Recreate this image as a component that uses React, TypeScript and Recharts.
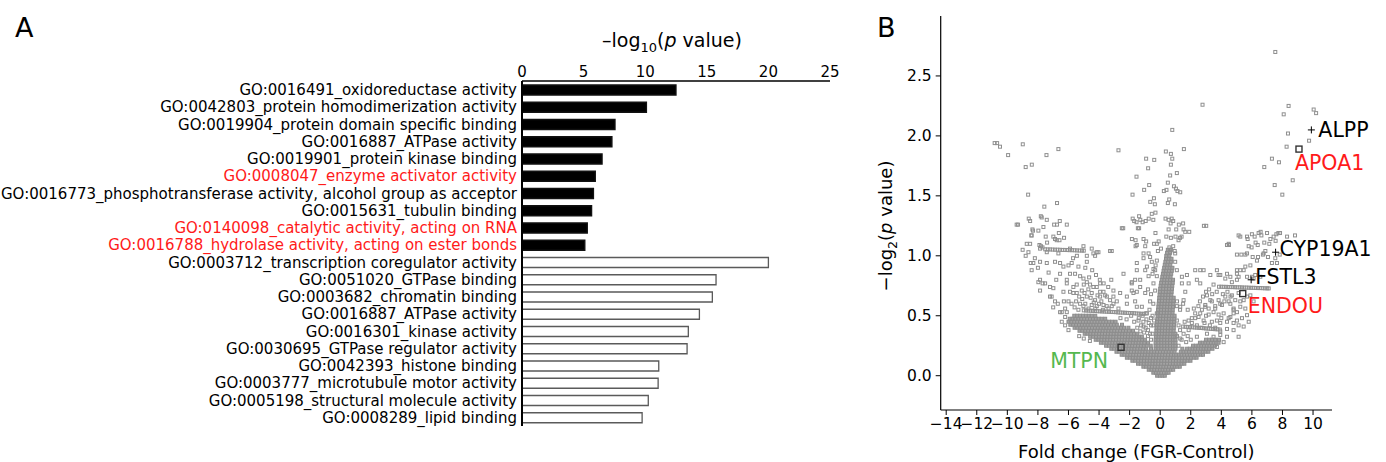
import React from 'react';
import { BarChart, Bar, XAxis, YAxis, Cell, ScatterChart, Scatter, Label } from 'recharts';

// ---------- Panel A: GO enrichment ----------
const goTerms = [
  'GO:0016491_oxidoreductase activity',
  'GO:0042803_protein homodimerization activity',
  'GO:0019904_protein domain specific binding',
  'GO:0016887_ATPase activity',
  'GO:0019901_protein kinase binding',
  'GO:0008047_enzyme activator activity',
  'GO:0016773_phosphotransferase activity, alcohol group as acceptor',
  'GO:0015631_tubulin binding',
  'GO:0140098_catalytic activity, acting on RNA',
  'GO:0016788_hydrolase activity, acting on ester bonds',
  'GO:0003712_transcription coregulator activity',
  'GO:0051020_GTPase binding',
  'GO:0003682_chromatin binding',
  'GO:0016887_ATPase activity ',
  'GO:0016301_kinase activity',
  'GO:0030695_GTPase regulator activity',
  'GO:0042393_histone binding',
  'GO:0003777_microtubule motor activity',
  'GO:0005198_structural molecule activity',
  'GO:0008289_lipid binding',
];
const logP = [12.5, 10.1, 7.55, 7.3, 6.5, 5.95, 5.8, 5.65, 5.3, 5.1, 20.0, 15.75, 15.45, 14.4, 13.5, 13.4, 11.1, 11.05, 10.25, 9.75];
const termGroup = ['up', 'up', 'up', 'up', 'up', 'up', 'up', 'up', 'up', 'up',
  'down', 'down', 'down', 'down', 'down', 'down', 'down', 'down', 'down', 'down'];
const redTerms = [
  'GO:0008047_enzyme activator activity',
  'GO:0140098_catalytic activity, acting on RNA',
  'GO:0016788_hydrolase activity, acting on ester bonds',
];
const xTicksA = [0, 5, 10, 15, 20, 25];

const goData = goTerms.map((term, i) => ({ term, value: logP[i], group: termGroup[i] }));

// ---------- Panel B: volcano ----------
type Pt = [number, number];

const xTicksB = [-14, -12, -10, -8, -6, -4, -2, 0, 2, 4, 6, 8, 10];
const yTicksB = [0, 0.5, 1.0, 1.5, 2.0, 2.5];

const outlierPoints: Pt[] = [
  [7.53, 2.70], [2.77, 2.26], [0.79, 2.05], [8.40, 2.25], [8.08, 2.18], [10.04, 2.22], [10.2, 2.19],
  [8.36, 2.02], [9.74, 1.96], [8.27, 1.91], [7.31, 1.81], [7.77, 1.78], [6.81, 1.74], [8.67, 1.63],
  [7.49, 1.59], [7.99, 1.51],
  [-10.83, 1.94], [-10.67, 1.94], [-10.48, 1.91], [-9.95, 1.84], [-8.99, 1.93], [-8.80, 1.74],
  [-8.40, 1.76], [-7.44, 1.84], [-6.66, 1.89], [-8.64, 1.51], [-7.58, 1.41], [-6.75, 1.44],
  [-7.81, 1.33], [-7.75, 1.32], [-7.42, 1.30], [-8.60, 1.31], [-8.51, 1.29], [-9.30, 1.26],
  [-6.94, 1.26], [-6.75, 1.26], [-6.57, 1.29], [-8.36, 1.22], [-8.32, 1.21], [-8.43, 1.17],
  [-7.49, 1.16], [-6.63, 1.19], [-6.29, 1.15], [-6.88, 1.14], [-6.77, 1.13], [-8.51, 1.10],
  [-7.40, 1.11], [-7.9, 1.09], [-7.8, 1.08], [-7.7, 1.07],
  [-2.73, 1.88], [-1.55, 1.66], [-0.92, 1.81], [-0.39, 1.80], [-0.79, 1.73], [0.37, 1.87],
  [0.70, 1.85], [0.79, 1.81], [0.70, 1.76], [1.55, 1.89], [1.09, 1.69], [0.65, 1.67], [0.50, 1.61],
  [-0.72, 1.59], [-1.05, 1.55], [-1.81, 1.51], [0.24, 1.54], [0.41, 1.55], [0.90, 1.58], [1.03, 1.56],
  [1.13, 1.54], [1.31, 1.53], [-0.41, 1.48], [-0.65, 1.45], [-0.35, 1.43], [0.59, 1.47], [0.50, 1.44],
  [0.96, 1.43], [-0.31, 1.36], [-0.55, 1.35],
  [-1.8, 1.31], [-1.7, 1.29], [-1.55, 1.28], [-1.3, 1.30], [-1.15, 1.28], [-0.95, 1.29], [-0.75, 1.31],
  [-0.45, 1.30], [0.35, 1.31], [0.55, 1.30], [0.75, 1.31], [0.85, 1.29], [0.68, 1.27], [1.5, 1.27],
  [2.86, 1.25], [-2.51, 1.23], [-1.46, 1.23], [0.55, 1.22], [1.05, 1.22], [1.53, 1.22], [1.22, 1.26],
  [1.9, 1.20], [-2.42, 1.23], [-1.85, 1.14], [-1.61, 1.13], [-1.61, 1.08], [-1.38, 1.23], [-1.38, 1.33],
  [-0.31, 1.19], [-1.09, 1.14], [-0.92, 1.12], [-0.4, 1.10], [-0.1, 1.12], [0.05, 1.06], [-0.15, 1.04],
  [0.4, 1.16], [0.7, 1.15], [1.0, 1.16], [1.3, 1.15], [1.4, 1.16], [0.6, 1.07], [0.7, 1.05],
  [0.95, 1.04], [0.85, 1.08], [0.65, 1.03],
  [4.5, 1.09], [5.24, 1.16], [5.72, 1.14], [6.0, 1.18], [6.18, 1.16], [6.44, 1.19], [6.57, 1.20],
  [6.62, 1.17], [6.99, 1.19], [7.21, 1.14], [7.42, 1.16], [7.6, 1.18], [7.73, 1.19], [7.84, 1.19],
  [7.55, 1.125], [7.14, 1.10], [6.81, 1.11], [6.38, 1.09], [6.24, 1.11], [5.98, 1.07], [5.79, 1.08],
  [5.31, 1.01], [6.05, 0.99], [6.4, 0.99], [6.72, 1.01], [6.88, 1.04], [7.05, 0.99], [7.82, 1.01],
  [8.3, 1.16], [8.82, 1.17], [5.13, 1.17], [5.68, 1.16], [4.37, 1.09], [5.68, 1.02], [5.02, 1.01],
  [7.31, 0.94], [7.64, 0.94], [7.53, 0.98], [5.9, 0.92], [5.46, 0.88], [5.02, 0.85], [4.59, 0.825],
  [6.11, 0.81], [6.55, 0.825], [5.02, 0.80], [3.71, 0.88], [3.28, 0.84], [3.01, 1.25],
];

const leftWing: Pt[] = [
  [-9.39, 1.26], [-8.73, 1.10], [-8.41, 1.17], [-7.97, 1.21], [-7.64, 1.24], [-6.99, 1.16], [-6.59, 1.13],
  [-6.11, 1.26], [-8.62, 1.03], [-8.47, 0.94], [-8.41, 0.88], [-7.86, 0.95], [-7.42, 0.94], [-7.97, 0.78],
  [-7.69, 0.77], [-7.21, 0.66], [-6.99, 0.73], [-6.55, 0.85], [-6.33, 0.91], [-6.11, 0.80], [-6.55, 0.53],
  [-6.22, 0.56], [-6.0, 0.62], [-5.68, 0.69], [-5.46, 0.76], [-5.24, 0.83], [-5.9, 0.85], [-5.35, 0.91],
  [-4.8, 0.95], [-4.37, 1.02], [-4.15, 1.03], [-3.28, 1.04], [-4.8, 0.78], [-4.37, 0.74], [-3.93, 0.70],
  [-3.49, 0.66], [-3.06, 0.60], [-2.73, 0.56], [-8.3, 0.94], [-7.86, 0.80], [-7.53, 0.77], [-7.21, 0.74],
  [-6.88, 0.95], [-6.55, 0.94], [-6.0, 0.92], [-5.79, 0.94], [-5.57, 0.85], [-5.02, 0.81], [-4.59, 0.76],
  [-4.15, 0.74], [-3.93, 0.77], [-2.4, 0.85], [-1.86, 0.77], [-1.53, 0.88], [-7.86, 0.71], [-7.1, 0.66],
  [-6.88, 0.62], [-6.33, 0.70], [-6.11, 0.77], [-5.68, 0.74], [-5.46, 0.69], [-5.13, 0.71], [-4.8, 0.66],
  [-4.48, 0.69], [-4.26, 0.63], [-3.93, 0.66], [-3.71, 0.70], [-3.28, 0.63], [-3.06, 0.66], [-2.84, 0.62],
  [-6.44, 0.53], [-6.11, 0.53], [-5.02, 0.58], [-4.69, 0.56], [-5.24, 0.60], [-4.48, 0.59], [-4.15, 0.58],
  [-3.71, 0.59], [-3.38, 0.56], [-3.17, 0.58], [-3.06, 0.71], [-2.62, 0.69], [-2.18, 0.66], [-1.86, 0.71],
  [-6.44, 0.45], [-6.22, 0.42], [-6.0, 0.38], [-6.22, 0.49], [-4.6, 0.29], [-5.0, 0.31], [-5.3, 0.33],
  [-7.86, 1.06], [-7.42, 1.03], [-6.66, 1.02], [-5.9, 1.06], [-5.02, 1.08], [-4.48, 1.06], [-4.04, 1.03],
  [-3.17, 1.04], [-4.8, 1.0], [-4.26, 1.0],
  [-5.5, 0.62], [-5.3, 0.66], [-5.1, 0.64], [-4.95, 0.69], [-4.7, 0.72], [-4.55, 0.65], [-4.35, 0.61],
  [-4.1, 0.67], [-3.85, 0.62], [-3.6, 0.67], [-5.6, 0.57], [-5.35, 0.55], [-4.9, 0.6], [-4.25, 0.56],
  [-4.0, 0.6], [-3.75, 0.55], [-3.5, 0.58], [-5.8, 0.6], [-5.9, 0.7], [-5.0, 0.76], [-4.65, 0.82],
  [-4.45, 0.88], [-4.2, 0.84], [-3.95, 0.8], [-3.7, 0.77], [-3.4, 0.74], [-3.2, 0.8], [-4.9, 0.9],
  [-5.7, 0.98], [-5.45, 1.0], [-6.3, 0.62], [-6.7, 0.6], [-7.0, 0.57], [-6.8, 0.8], [-7.3, 0.86],
  [-8.0, 0.9], [-8.8, 1.0], [-9.0, 1.05], [-8.2, 0.98],
];

const centerScatter: Pt[] = [
  [-1.53, 1.09], [-0.98, 1.08], [-0.76, 1.02], [-1.09, 0.98], [-0.55, 0.95], [-0.22, 1.10], [1.2, 1.13],
  [1.64, 1.2], [0.98, 1.02], [0.98, 0.95], [1.75, 0.84], [1.42, 0.77], [1.64, 0.70], [1.09, 0.58],
  [-1.86, 0.78], [-1.31, 0.80], [-1.53, 0.70], [-0.98, 0.69], [-0.76, 0.83], [-0.44, 0.89], [-0.87, 0.91],
  [-0.66, 0.62], [-1.2, 0.575], [-1.64, 0.62], [-2.18, 0.60], [-0.22, 0.52], [-0.33, 0.71], [-0.22, 0.83],
  [-1.64, 0.8], [-1.31, 0.74], [-1.75, 0.69], [-1.53, 0.575], [-0.87, 0.52], [-1.42, 0.46], [-1.09, 0.41],
  [-0.66, 0.35], [-0.44, 0.77], [-0.33, 0.88], [-0.22, 0.96], [-0.66, 0.99], [-1.09, 1.02], [-1.53, 0.94],
  [-0.98, 0.88], [-0.5, 0.35], [-0.6, 0.42], [-0.8, 0.38], [-0.5, 0.5], [-0.7, 0.55], [-0.9, 0.47],
  [-1.1, 0.45], [-0.45, 0.6], [-0.6, 0.68], [-0.8, 0.72], [-0.5, 0.85], [-0.3, 0.92],
  [-1.3, 0.37], [-1.05, 0.36], [-0.8, 0.33], [-0.6, 0.3], [-1.5, 0.4], [-1.25, 0.42], [-0.95, 0.4],
  [-0.75, 0.44], [-0.45, 0.42], [-1.7, 0.45], [-1.4, 0.48], [-1.15, 0.5], [-0.95, 0.52], [-0.6, 0.48],
  [-0.4, 0.46], [-2.2, 0.47], [-1.9, 0.5], [-2.6, 0.48],
  [1.09, 0.88], [1.42, 0.825], [1.86, 0.77], [1.53, 0.63], [1.31, 0.575], [1.09, 0.46], [1.31, 0.31],
  [1.53, 0.35], [1.86, 0.38], [2.07, 0.44], [2.29, 0.48], [1.2, 0.25], [1.4, 0.3], [1.3, 0.38],
  [1.1, 0.33], [1.2, 0.42], [1.6, 0.45], [1.3, 0.55], [1.1, 0.62], [1.5, 0.6], [1.8, 0.55], [2.0, 0.3],
  [1.8, 0.33], [1.7, 0.28],
];

const rightWing: Pt[] = [
  [2.29, 0.88], [2.62, 0.88], [3.93, 0.84], [4.37, 0.85], [5.02, 0.88], [4.48, 1.10], [3.06, 0.67],
  [3.49, 0.76], [2.62, 0.77], [2.62, 0.52], [2.95, 0.575], [3.28, 0.63], [3.6, 0.56], [4.15, 0.52],
  [4.48, 0.48], [3.71, 0.46], [3.93, 0.37], [4.37, 0.39], [4.8, 0.38],
  [1.86, 0.46], [2.07, 0.48], [2.29, 0.52], [2.51, 0.49], [2.73, 0.55], [2.95, 0.59], [3.17, 0.56],
  [3.38, 0.62], [3.6, 0.58], [3.82, 0.63], [4.04, 0.59], [4.26, 0.66], [4.48, 0.62], [4.69, 0.67],
  [4.91, 0.63], [5.13, 0.69], [3.17, 0.51], [3.49, 0.53], [3.82, 0.51], [4.8, 0.52], [2.84, 0.46],
  [3.38, 0.45], [3.93, 0.44], [4.37, 0.45], [4.8, 0.44], [3.06, 0.35], [3.49, 0.325], [3.93, 0.34],
  [4.37, 0.325], [5.13, 0.325], [2.4, 0.325], [3.71, 0.24], [4.15, 0.28],
  [2.4, 0.80], [2.84, 0.88], [3.82, 0.84], [4.26, 0.81], [4.69, 0.78], [5.13, 0.825], [5.24, 0.88],
  [5.57, 0.91], [5.68, 0.825], [6.0, 0.825], [6.22, 0.84], [6.33, 0.96], [5.57, 1.01], [6.77, 1.02],
  [4.59, 0.60], [4.8, 0.56], [5.02, 0.53], [5.24, 0.575], [5.46, 0.63], [5.68, 0.66], [5.9, 0.67],
  [6.11, 0.62], [5.57, 0.56], [5.68, 0.505], [5.35, 0.48], [5.79, 0.45], [5.13, 0.42], [5.46, 0.41],
  [5.24, 0.62], [4.8, 0.55], [5.02, 0.46], [3.93, 0.60], [4.59, 0.49],
  [2.6, 0.62], [2.8, 0.66], [3.0, 0.7], [3.2, 0.72], [3.4, 0.68], [3.7, 0.7], [3.0, 0.5], [3.25, 0.42],
  [3.6, 0.4], [4.0, 0.48], [4.2, 0.62], [4.4, 0.7], [4.6, 0.66], [4.1, 0.68], [2.5, 0.58], [2.2, 0.56],
  [2.4, 0.42], [2.7, 0.4], [2.9, 0.44],
];

const streakLeftTop: Pt[] = [
  [-7.52, 1.054], [-7.36, 1.053], [-7.2, 1.053], [-7.04, 1.052], [-6.88, 1.051], [-6.72, 1.051],
  [-6.56, 1.05], [-6.4, 1.049], [-6.24, 1.049], [-6.08, 1.048], [-5.92, 1.047], [-5.76, 1.047],
  [-5.6, 1.046], [-5.44, 1.045], [-5.28, 1.044], [-5.12, 1.044], [-5.0, 1.043],
];
const streakLeftMid: Pt[] = [
  [-5.0, 0.545], [-4.85, 0.544], [-4.7, 0.543], [-4.55, 0.542], [-4.4, 0.541], [-4.25, 0.54],
  [-4.1, 0.538], [-3.95, 0.537], [-3.8, 0.536], [-3.65, 0.535], [-3.5, 0.534], [-3.35, 0.533],
  [-3.2, 0.532], [-3.05, 0.531], [-2.9, 0.53], [-2.75, 0.528], [-2.6, 0.527], [-2.45, 0.526],
  [-2.3, 0.525], [-2.15, 0.524], [-2.0, 0.523], [-1.85, 0.522], [-1.7, 0.521], [-1.55, 0.519],
  [-1.4, 0.518], [-1.25, 0.517], [-1.1, 0.516],
];
const streakRightLow: Pt[] = [
  [1.5, 0.41], [1.65, 0.408], [1.8, 0.407], [1.95, 0.405], [2.1, 0.404], [2.25, 0.402], [2.4, 0.401],
  [2.55, 0.399], [2.7, 0.398], [2.85, 0.396], [3.0, 0.394], [3.15, 0.393], [3.3, 0.391], [3.45, 0.39],
  [3.6, 0.388], [3.75, 0.387], [3.9, 0.385],
];
const streakRightTop: Pt[] = [
  [3.85, 0.742], [4.0, 0.742], [4.15, 0.741], [4.3, 0.741], [4.45, 0.74], [4.6, 0.739], [4.75, 0.739],
  [4.9, 0.738], [5.05, 0.737], [5.2, 0.737], [5.35, 0.736], [5.5, 0.735], [5.65, 0.735], [5.8, 0.734],
  [5.95, 0.733], [6.1, 0.733], [6.25, 0.732], [6.4, 0.731], [6.55, 0.731], [6.7, 0.73], [6.85, 0.729],
  [7.0, 0.729], [7.1, 0.728],
];

// the dense V: each row is one -log2 p level with the fold changes read along it
const denseRows: [number, number[]][] = [
  [0.0, [-0.2, -0.02, 0.15, 0.3]],
  [0.025, [-0.45, -0.28, -0.1, 0.08, 0.25, 0.42, 0.55]],
  [0.05, [-0.75, -0.56, -0.38, -0.2, -0.02, 0.16, 0.34, 0.52, 0.7, 0.85]],
  [0.075, [-1.1, -0.92, -0.72, -0.54, -0.35, -0.16, 0.03, 0.22, 0.4, 0.58, 0.77, 0.95, 1.12, 1.28]],
  [0.1, [-1.45, -1.26, -1.07, -0.88, -0.69, -0.5, -0.31, -0.12, 0.07, 0.26, 0.45, 0.64, 0.83, 1.02, 1.21, 1.4, 1.58]],
  [0.125, [-1.82, -1.63, -1.44, -1.25, -1.06, -0.87, -0.68, -0.49, -0.3, -0.11, 0.08, 0.27, 0.46, 0.65, 0.84, 1.03, 1.22, 1.41, 1.6, 1.79, 1.98]],
  [0.15, [-2.18, -1.98, -1.79, -1.6, -1.41, -1.22, -1.03, -0.84, -0.65, -0.46, -0.27, -0.08, 0.11, 0.3, 0.49, 0.68, 0.87, 1.06, 1.25, 1.44, 1.63, 1.82, 2.01, 2.2, 2.38]],
  [0.175, [-2.52, -2.33, -2.14, -1.95, -1.76, -1.57, -1.38, -1.19, -1.0, -0.81, -0.62, -0.43, -0.24, -0.05, 0.14, 0.33, 0.52, 0.71, 0.9, 1.05, 1.22, 1.4, 1.58, 1.76, 1.94, 2.12, 2.3, 2.48, 2.66, 2.8]],
  [0.2, [-2.86, -2.67, -2.48, -2.29, -2.1, -1.91, -1.72, -1.53, -1.34, -1.15, -0.96, -0.77, -0.58, -0.39, -0.2, -0.01, 0.18, 0.37, 0.56, 0.75, 0.94, 1.35, 1.53, 1.71, 1.89, 2.07, 2.25, 2.43, 2.61, 2.79, 2.97, 3.15]],
  [0.225, [-3.2, -3.01, -2.82, -2.63, -2.44, -2.25, -2.06, -1.87, -1.68, -1.49, -1.3, -1.11, -0.92, -0.6, -0.3, -0.11, 0.08, 0.27, 0.46, 0.65, 0.84, 1.0, 1.45, 1.76, 1.94, 2.12, 2.3, 2.48, 2.66, 2.84, 3.02, 3.2, 3.42]],
  [0.25, [-3.54, -3.35, -3.16, -2.97, -2.78, -2.59, -2.4, -2.21, -2.02, -1.83, -1.64, -1.45, -1.26, -1.07, -0.88, -0.62, -0.3, -0.11, 0.08, 0.27, 0.46, 0.65, 0.84, 1.0, 2.15, 2.33, 2.51, 2.69, 2.87, 3.05, 3.23, 3.41, 3.58]],
  [0.275, [-3.88, -3.69, -3.5, -3.31, -3.12, -2.93, -2.74, -2.55, -2.36, -2.17, -1.98, -1.79, -1.6, -1.41, -1.22, -1.03, -0.8, -0.3, -0.11, 0.08, 0.27, 0.46, 0.65, 0.84, 1.0, 2.6, 2.78, 2.96, 3.14, 3.32, 3.5, 3.68, 3.82]],
  [0.3, [-4.22, -4.03, -3.84, -3.65, -3.46, -3.27, -3.08, -2.89, -2.7, -2.51, -2.32, -2.13, -1.94, -1.75, -1.56, -1.37, -1.18, -1.0, -0.3, -0.11, 0.08, 0.27, 0.46, 0.65, 0.84, 1.0, 3.0, 3.2, 3.4, 3.6, 3.85]],
  [0.325, [-4.58, -4.39, -4.2, -4.01, -3.82, -3.63, -3.44, -3.25, -3.06, -2.87, -2.68, -2.49, -2.3, -2.11, -1.92, -1.73, -1.54, -1.35, -1.2, -0.28, -0.1, 0.09, 0.28, 0.47, 0.66, 0.85, 1.0]],
  [0.35, [-4.94, -4.75, -4.56, -4.37, -4.18, -3.99, -3.8, -3.61, -3.42, -3.23, -3.04, -2.85, -2.66, -2.47, -2.28, -2.09, -1.9, -1.71, -1.5, -0.26, -0.08, 0.11, 0.3, 0.49, 0.68, 0.87, 1.0]],
  [0.375, [-5.28, -5.09, -4.9, -4.71, -4.52, -4.33, -4.14, -3.95, -3.76, -3.57, -3.38, -3.19, -3.0, -2.81, -2.62, -2.43, -2.24, -2.05, -1.78, -0.25, -0.07, 0.12, 0.31, 0.5, 0.69, 0.88]],
  [0.4, [-5.6, -5.41, -5.22, -5.03, -4.84, -4.65, -4.46, -4.27, -4.08, -3.89, -3.7, -3.51, -3.32, -3.13, -2.94, -2.75, -2.56, -2.37, -2.08, -0.24, -0.06, 0.13, 0.32, 0.51, 0.7, 0.89]],
  [0.425, [-5.88, -5.69, -5.5, -5.31, -5.12, -4.93, -4.74, -4.55, -4.36, -4.17, -3.98, -3.79, -3.6, -3.41, -3.22, -3.03, -2.84, -2.5, -0.22, -0.04, 0.15, 0.34, 0.53, 0.72, 0.9]],
  [0.45, [-6.0, -5.81, -5.62, -5.43, -5.24, -5.05, -4.86, -4.67, -4.48, -4.29, -4.1, -3.91, -3.72, -3.53, -3.34, -3.15, -2.92, -0.2, -0.02, 0.17, 0.36, 0.55, 0.74, 0.92]],
  [0.475, [-5.92, -5.73, -5.54, -5.35, -5.16, -4.97, -4.78, -4.59, -4.4, -4.21, -4.02, -3.83, -3.6, -0.18, 0.0, 0.19, 0.38, 0.57, 0.76, 0.93]],
  [0.5, [-5.62, -5.43, -5.24, -5.05, -4.86, -4.67, -4.48, -4.25, -0.16, 0.02, 0.21, 0.4, 0.59, 0.78, 0.94]],
  [0.525, [-0.15, 0.05, 0.24, 0.43, 0.62, 0.81]],
  [0.55, [-0.14, 0.06, 0.25, 0.44, 0.63, 0.82]],
  [0.575, [-0.12, 0.08, 0.27, 0.46, 0.65, 0.84]],
  [0.6, [-0.1, 0.1, 0.29, 0.48, 0.67, 0.86]],
  [0.625, [-0.08, 0.12, 0.31, 0.5, 0.69, 0.87]],
  [0.65, [-0.06, 0.14, 0.33, 0.52, 0.71, 0.88]],
  [0.675, [-0.04, 0.16, 0.35, 0.54, 0.73]],
  [0.7, [-0.02, 0.18, 0.37, 0.56, 0.75]],
  [0.725, [0.0, 0.2, 0.39, 0.58, 0.77]],
  [0.75, [0.03, 0.22, 0.41, 0.6, 0.79]],
  [0.775, [0.06, 0.25, 0.44, 0.63, 0.82]],
  [0.8, [0.1, 0.28, 0.46, 0.65, 0.84]],
  [0.825, [0.14, 0.32, 0.5, 0.68]],
  [0.85, [0.18, 0.36, 0.54, 0.72]],
  [0.875, [0.22, 0.4, 0.58, 0.76]],
  [0.9, [0.26, 0.44, 0.62, 0.8]],
  [0.925, [0.3, 0.48, 0.66]],
  [0.95, [0.34, 0.52, 0.7]],
  [0.975, [0.38, 0.56, 0.74]],
  [1.0, [0.4, 0.6]],
  [1.025, [0.45, 0.64]],
  [1.05, [0.5, 0.68]],
];

const geneNames = ['ALPP', 'APOA1', 'CYP19A1', 'FSTL3', 'ENDOU', 'MTPN'];
const geneFold = [9.89, 9.08, 7.55, 5.95, 5.4, -2.56];
const geneLogP = [2.05, 1.89, 1.03, 0.80, 0.685, 0.237];

// how each highlighted gene is drawn (marker type, label offset in px, label colour)
const geneStyle: Record<string, { marker: 'plus' | 'box'; dx: number; dy: number; anchor: 'start' | 'end'; color: string }> = {
  ALPP: { marker: 'plus', dx: 7, dy: 0, anchor: 'start', color: '#000000' },
  APOA1: { marker: 'box', dx: -4, dy: 14, anchor: 'start', color: '#ff1a1a' },
  CYP19A1: { marker: 'plus', dx: 4, dy: -4, anchor: 'start', color: '#000000' },
  FSTL3: { marker: 'plus', dx: 4, dy: -3, anchor: 'start', color: '#000000' },
  ENDOU: { marker: 'box', dx: 5, dy: 12, anchor: 'start', color: '#ff1a1a' },
  MTPN: { marker: 'box', dx: -13, dy: 13, anchor: 'end', color: '#55b84f' },
};

const denseData = denseRows
  .flatMap(([y, xs]) => xs.map((x) => ({ x, y })));
const cloudData = [
  ...outlierPoints, ...leftWing, ...centerScatter, ...rightWing,
  ...streakLeftTop, ...streakLeftMid, ...streakRightLow, ...streakRightTop,
].map(([x, y]) => ({ x, y }));

const geneData = geneNames.map((name, i) => ({ name, x: geneFold[i], y: geneLogP[i] }));

const FONT = 'DejaVu Sans, Verdana, sans-serif';
const minus = (v: number) => (v < 0 ? `\u2212${Math.abs(v)}` : `${v}`);

const TermTick = (props: any) => {
  const { x, y, payload } = props;
  const isRed = redTerms.includes(payload.value);
  return (
    <text x={x} y={y} dy="0.36em" textAnchor="end" fontSize={15} fill={isRed ? '#ff1a1a' : '#000'}>
      {payload.value}
    </text>
  );
};

const CloudPoint = (props: any) => {
  const { cx, cy } = props;
  if (cx == null || cy == null) return null;
  return <rect x={cx - 1.5} y={cy - 1.5} width={3} height={3} fill="none" stroke="#8f8f8f" strokeWidth={1} />;
};

// heavily overlapping points of the V: drawn so that their overlap reads as solid grey
const DensePoint = (props: any) => {
  const { cx, cy } = props;
  if (cx == null || cy == null) return null;
  return <rect x={cx - 1.5} y={cy - 1.5} width={3} height={3} fill="#a3a3a3" stroke="#8c8c8c" strokeWidth={1} />;
};

const GenePoint = (props: any) => {
  const { cx, cy, payload } = props;
  const st = geneStyle[payload.name];
  return (
    <g>
      {st.marker === 'plus' ? (
        <path d={`M${cx - 3.5},${cy}H${cx + 3.5}M${cx},${cy - 3.5}V${cy + 3.5}`} stroke="#000" strokeWidth={1} />
      ) : (
        <rect x={cx - 3} y={cy - 3} width={6} height={6} fill="none" stroke="#333" strokeWidth={1.4} />
      )}
      <text x={cx + st.dx} y={cy + st.dy} dy="0.36em" textAnchor={st.anchor} fontSize={20.5} fill={st.color}>
        {payload.name}
      </text>
    </g>
  );
};

export default function App() {
  return (
    <div style={{ position: 'absolute', left: 0, top: 0, width: 1386, height: 462, background: '#fff', fontFamily: FONT }}>
      <div style={{ position: 'absolute', left: 0, top: 0 }}>
        <BarChart
          width={860}
          height={462}
          layout="vertical"
          data={goData}
          margin={{ top: 51, right: 30, bottom: 36, left: 0 }}
        >
          <XAxis
            type="number"
            orientation="top"
            domain={[0, 25]}
            ticks={xTicksA}
            height={30}
            tickSize={0}
            tickMargin={4}
            axisLine={{ stroke: '#000', strokeWidth: 1.5 }}
            tick={{ fontSize: 15, fill: '#000' }}
          >
            <Label
              content={(p: any) => {
                const vb = p.viewBox;
                return (
                  <text x={vb.x + vb.width / 2 - 4} y={vb.y - 4} textAnchor="middle" fontSize={19} fill="#000">
                    –log<tspan dy={5} fontSize={13}>10</tspan><tspan dy={-5}>(</tspan><tspan fontStyle="italic">p</tspan> value)
                  </text>
                );
              }}
            />
          </XAxis>
          <YAxis
            type="category"
            dataKey="term"
            width={522}
            interval={0}
            tickSize={0}
            tickMargin={5}
            tickLine={false}
            axisLine={{ stroke: '#000', strokeWidth: 2 }}
            tick={<TermTick />}
          />
          <Bar dataKey="value" barSize={10} isAnimationActive={false}>
            {goData.map((d, i) => (
              <Cell
                key={i}
                fill={d.group === 'up' ? '#000' : '#fff'}
                stroke={d.group === 'up' ? '#111' : '#5a5a5a'}
                strokeWidth={1.3}
              />
            ))}
          </Bar>
        </BarChart>
      </div>

      <div style={{ position: 'absolute', left: 860, top: 0 }}>
        <ScatterChart width={526} height={462} margin={{ top: 16, right: 54, bottom: 0, left: 0 }}>
          <XAxis
            type="number"
            dataKey="x"
            domain={[-14.36, 11.24]}
            ticks={xTicksB}
            height={52}
            tickSize={5}
            tickMargin={3}
            tickFormatter={minus}
            interval={0}
            axisLine={{ stroke: '#000', strokeWidth: 1.2 }}
            tickLine={{ stroke: '#000' }}
            tick={{ fontSize: 15.5, fill: '#000' }}
          >
            <Label
              content={(p: any) => {
                const vb = p.viewBox;
                return (
                  <text x={vb.x + vb.width / 2} y={vb.y + 48} textAnchor="middle" fontSize={18} fill="#000">
                    Fold change (FGR-Control)
                  </text>
                );
              }}
            />
          </XAxis>
          <YAxis
            type="number"
            dataKey="y"
            domain={[-0.286, 3.0]}
            ticks={yTicksB}
            width={80.7}
            tickSize={5}
            tickMargin={4}
            interval={0}
            tickFormatter={(v: number) => v.toFixed(1)}
            axisLine={{ stroke: '#000', strokeWidth: 1.2 }}
            tickLine={{ stroke: '#000' }}
            tick={{ fontSize: 15.5, fill: '#000' }}
          >
            <Label
              content={(p: any) => {
                const vb = p.viewBox;
                const cx = vb.x + 32;
                const cy = vb.y + 210;
                return (
                  <text x={cx} y={cy} transform={`rotate(-90 ${cx} ${cy})`} textAnchor="middle" fontSize={18} fill="#000">
                    −log<tspan dy={5} fontSize={12.5}>2</tspan><tspan dy={-5}>(</tspan><tspan fontStyle="italic">p</tspan> value)
                  </text>
                );
              }}
            />
          </YAxis>
          <Scatter data={denseData} shape={<DensePoint />} isAnimationActive={false} />
          <Scatter data={cloudData} shape={<CloudPoint />} isAnimationActive={false} />
          <Scatter data={geneData} shape={<GenePoint />} isAnimationActive={false} />
        </ScatterChart>
      </div>

      <svg width={1386} height={462} style={{ position: 'absolute', left: 0, top: 0, pointerEvents: 'none' }}>
        <text x={15} y={37} fontSize={27} fill="#000">A</text>
        <text x={877} y={37} fontSize={27} fill="#000">B</text>
      </svg>
    </div>
  );
}
